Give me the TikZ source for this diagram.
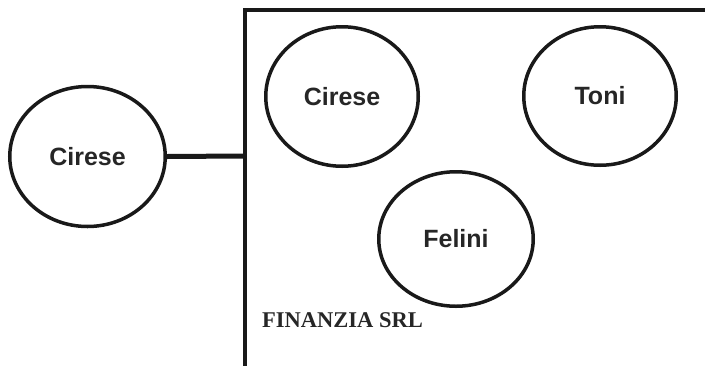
\documentclass[tikz,border=0pt]{standalone}
\usepackage{fontspec}
\setmainfont{Liberation Serif}
\newfontfamily\labfont{Liberation Sans}
\usetikzlibrary{shapes.geometric}
\begin{document}
\begin{tikzpicture}[x=1pt,y=-1pt,
  ent/.style={ellipse,draw=black!90,line width=3.5pt,inner sep=0pt,
    font=\labfont\bfseries\fontsize{25}{28}\selectfont,text=black!85},
  frameline/.style={draw=black!90,line width=3.5pt},
  link/.style={draw=black!90,line width=5pt}]
\useasboundingbox (0,0) rectangle (705,365);
\node[ent,minimum width=155.5pt,minimum height=140pt] (left) at (87.5,156.5) {Cirese};
\node[ent,minimum width=152.5pt,minimum height=139.5pt] (cir) at (342,96.5) {Cirese};
\node[ent,minimum width=152.5pt,minimum height=138.5pt] (toni) at (600,96) {Toni};
\node[ent,minimum width=154.5pt,minimum height=134.5pt] (fel) at (456,239) {Felini};
\coordinate (tl) at (245,10);
\coordinate (bl) at (245,366);
\coordinate (tr) at (706,10);
\coordinate (join) at (243.5,156);
\draw[frameline] (bl) -- (tl) -- (tr);
\draw[link] (left.east) -- (join);
\node[anchor=west,inner sep=0pt,font=\bfseries\fontsize{22.5}{25}\selectfont,text=black!85] (firm) at (262,320) {FINANZIA SRL};
\end{tikzpicture}
\end{document}
